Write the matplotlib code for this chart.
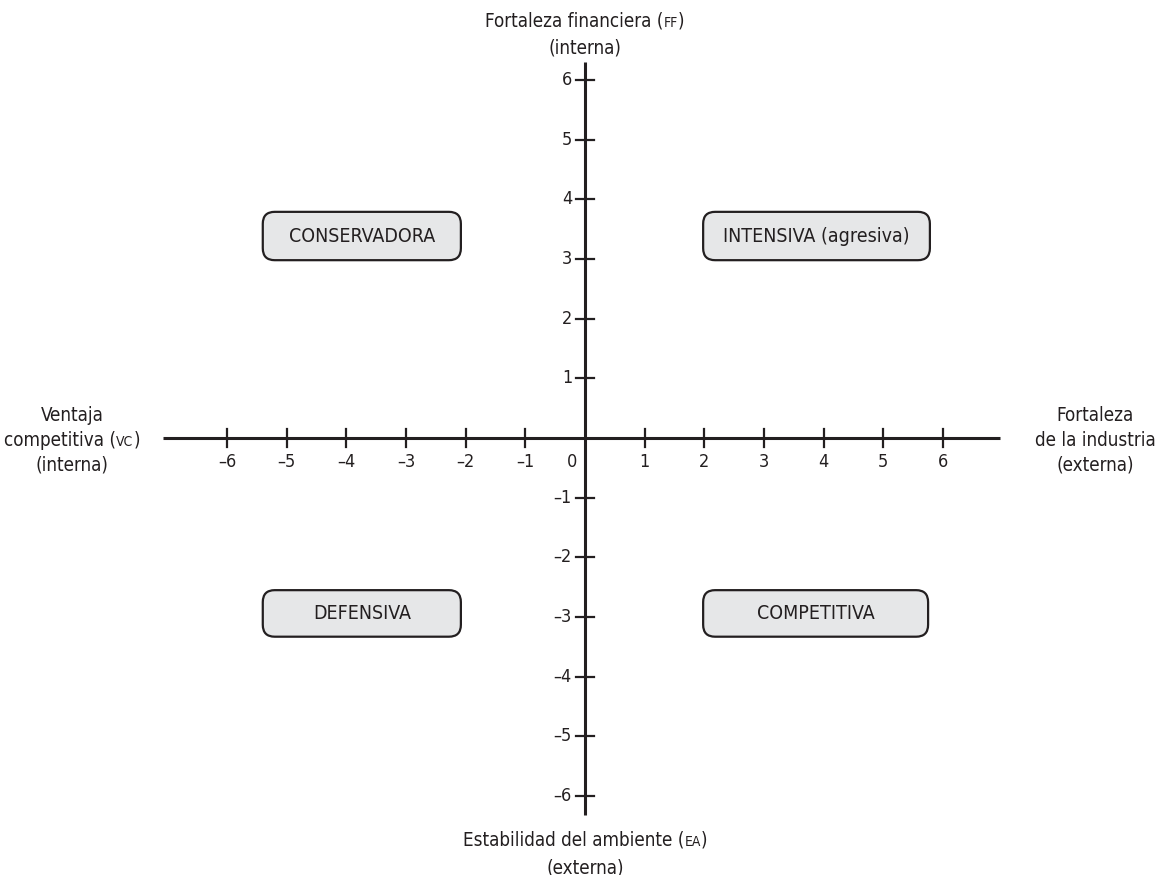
import matplotlib
matplotlib.use("Agg")
import matplotlib.pyplot as plt
import matplotlib.patches as mpatches

# datos del gráfico
ticks = [-6, -5, -4, -3, -2, -1, 1, 2, 3, 4, 5, 6]
tick_labels = ["–6", "–5", "–4", "–3", "–2", "–1", "1", "2", "3", "4", "5", "6"]
cuadrantes = ["CONSERVADORA", "INTENSIVA (agresiva)", "DEFENSIVA", "COMPETITIVA"]
# (x0, x1, y0, y1) de cada recuadro en unidades de los ejes
cajas = [(-5.40, -2.08, 2.98, 3.79), (1.98, 5.78, 2.98, 3.79),
         (-5.40, -2.08, -3.33, -2.55), (1.98, 5.75, -3.33, -2.55)]

plt.rcParams['font.family'] = ['DejaVu Sans']
plt.rcParams['font.stretch'] = 'condensed'

COL = "#231f20"
W, H = 1166, 875
ox, oy = 585, 438       # origen en pixeles
u = 59.67               # pixeles por unidad
FS = 13.5               # etiquetas de ejes
FS_SC = 10              # versalitas

fig = plt.figure(figsize=(W / 100, H / 100), dpi=100)
ax = fig.add_axes([0, 0, 1, 1])
ax.set_xlim(-ox / u, (W - ox) / u)
ax.set_ylim(-(H - oy) / u, oy / u)
ax.axis('off')

# ejes
ax.plot([(163 - ox) / u, (1000 - ox) / u], [0, 0], color=COL, lw=2.2, solid_capstyle='butt')
ax.plot([0, 0], [(oy - 815) / u, (oy - 62) / u], color=COL, lw=2.2, solid_capstyle='butt')

tl = 9 / u
for t, lab in zip(ticks, tick_labels):
    ax.plot([t, t], [-tl, tl], color=COL, lw=1.6)
    ax.plot([-tl, tl], [t, t], color=COL, lw=1.6)
    ax.text(t, -24 / u, lab, ha='center', va='center', fontsize=13, color=COL)
    ax.text(-13 / u, t, lab, ha='right', va='center', fontsize=13, color=COL)
ax.text(-13 / u, -24 / u, "0", ha='center', va='center', fontsize=13, color=COL)

# recuadros de cuadrantes
for nombre, (x0, x1, y0, y1) in zip(cuadrantes, cajas):
    caja = mpatches.FancyBboxPatch((x0, y0), x1 - x0, y1 - y0,
                                   boxstyle="round,pad=0,rounding_size=0.2",
                                   fc="#e6e7e8", ec=COL, lw=1.6)
    ax.add_patch(caja)
    ax.text((x0 + x1) / 2, (y0 + y1) / 2, nombre, ha='center', va='center',
            fontsize=14, color=COL)

renderer = fig.canvas.get_renderer()


def linea(xc, yc, partes):
    # texto centrado con versalitas pequeñas
    objs = []
    for s, fs in partes:
        objs.append(ax.text(0, yc, s, ha='left', va='baseline', fontsize=fs, color=COL))
    anchos = [o.get_window_extent(renderer).width / u for o in objs]
    x = xc - sum(anchos) / 2
    for o, w in zip(objs, anchos):
        o.set_x(x)
        x += w


def bl(y):
    return (oy - y) / u


# etiquetas de los ejes
linea((585 - ox) / u, bl(27), [("Fortaleza financiera (", FS), ("FF", FS_SC), (")", FS)])
linea((585 - ox) / u, bl(54), [("(interna)", FS)])
linea((585 - ox) / u, bl(846), [("Estabilidad del ambiente (", FS), ("EA", FS_SC), (")", FS)])
linea((585 - ox) / u, bl(873), [("(externa)", FS)])

linea((72 - ox) / u, bl(421), [("Ventaja", FS)])
linea((72 - ox) / u, bl(446), [("competitiva (", FS), ("VC", FS_SC), (")", FS)])
linea((72 - ox) / u, bl(471), [("(interna)", FS)])

linea((1095 - ox) / u, bl(421), [("Fortaleza", FS)])
linea((1095 - ox) / u, bl(446), [("de la industria", FS)])
linea((1095 - ox) / u, bl(471), [("(externa)", FS)])

fig.savefig("out.png", dpi=100)
